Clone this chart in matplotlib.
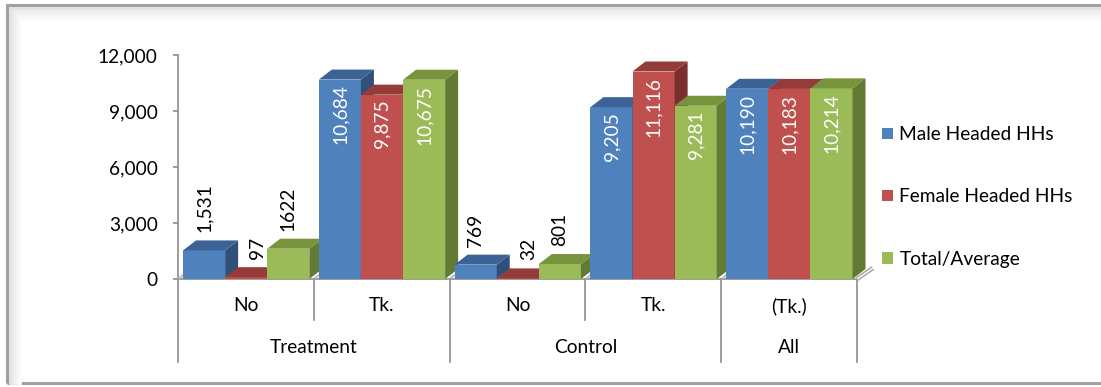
import matplotlib
matplotlib.use("Agg")
import matplotlib.pyplot as plt
from matplotlib.patches import Polygon, Rectangle
from matplotlib.lines import Line2D

# ---- data -------------------------------------------------------------
subcats = ["No", "Tk.", "No", "Tk.", "(Tk.)"]
groups = ["Treatment", "Control", "All"]
group_spans = [(0, 2), (2, 4), (4, 5)]
series = ["Male Headed HHs", "Female Headed HHs", "Total/Average"]
male = [1531, 10684, 769, 9205, 10190]
female = [97, 9875, 32, 11116, 10183]
total = [1622, 10675, 801, 9281, 10214]
# whether a data label uses a thousands separator
use_sep = [
    [True, True, True, True, True],
    [True, True, True, True, True],
    [False, True, True, True, True],
]
yticks = [0, 3000, 6000, 9000, 12000]

values = [male, female, total]

# ---- style ------------------------------------------------------------
front = ["#4F81BD", "#C0504D", "#9BBB59"]
top_c = ["#3C6395", "#953B39", "#77933C"]
side_c = ["#2F5079", "#7B2E2C", "#637A34"]
axis_c = "#8C8C8C"
FONT = "Lato"
FS = 13.8

plt.rcParams["font.family"] = [FONT, "DejaVu Sans"]

W, H = 1101, 387
fig = plt.figure(figsize=(W / 100, H / 100), dpi=100)
ax = fig.add_axes([178 / W, (H - 279) / H, (857 - 178) / W, 224 / H])
ax.set_xlim(0, len(subcats))
ax.set_ylim(0, 12000)

# chart frame with a soft inner shadow
for i, col in enumerate(["#E0E0E0", "#E8E8E8", "#EEEEEE", "#F3F3F3", "#F7F7F7", "#FBFBFB"]):
    off = 3 + i * 2
    fig.add_artist(Line2D([(7 + off) / W, 1.01], [(H - 5 - off) / H] * 2,
                          transform=fig.transFigure, color=col, lw=2))
    fig.add_artist(Line2D([(7 + off) / W] * 2, [(H - 5 - off) / H, 4 / H],
                          transform=fig.transFigure, color=col, lw=2))
fig.add_artist(Rectangle((7 / W, 4 / H), 1.05, (H - 9) / H, transform=fig.transFigure,
                         fill=False, ec="#A0A0A0", lw=2.2))

# depth of the 3D extrusion, converted from pixels into data units
fig.canvas.draw()
p0 = ax.transData.transform((0, 0))
inv = ax.transData.inverted()
ddx, ddy = inv.transform(p0 + [13, 10])
fdx, fdy = inv.transform(p0 + [16, 11])

bar_w = 0.31
lead = 0.037
n = len(subcats)
z = 3.0
for i in range(n):
    for k in range(3):
        v = values[k][i]
        x0 = i + lead + k * bar_w
        rect = ax.bar(x0, v, width=bar_w, align="edge", color=front[k],
                      edgecolor="none", zorder=z)[0]
        rect.set_clip_on(False)
        topf = Polygon([(x0, v), (x0 + bar_w, v), (x0 + bar_w + ddx, v + ddy), (x0 + ddx, v + ddy)],
                       closed=True, fc=top_c[k], ec="none", zorder=z, clip_on=False)
        sidef = Polygon([(x0 + bar_w, 0), (x0 + bar_w + ddx, ddy), (x0 + bar_w + ddx, v + ddy),
                         (x0 + bar_w, v)], closed=True, fc=side_c[k], ec="none", zorder=z,
                        clip_on=False)
        ax.add_patch(sidef)
        ax.add_patch(topf)
        z += 0.01

# data labels
outside_nudge_px = [0, 11, 0]
for k in range(3):
    for i in range(n):
        v = values[k][i]
        xc = i + lead + (k + 0.5) * bar_w
        txt = f"{v:,}" if use_sep[k][i] else f"{v}"
        if v > 3000:
            ax.annotate(txt, (xc, v), xytext=(0, -5), textcoords="offset pixels",
                        rotation=90, ha="center", va="top", color="white",
                        fontsize=FS, zorder=10, annotation_clip=False)
        else:
            ax.annotate(txt, (xc, v), xytext=(outside_nudge_px[k], 18), textcoords="offset pixels",
                        rotation=90, ha="center", va="bottom", color="black",
                        fontsize=FS, zorder=10, annotation_clip=False)

# axes styling
for s in ["top", "right"]:
    ax.spines[s].set_visible(False)
for s in ["left", "bottom"]:
    ax.spines[s].set_color(axis_c)
    ax.spines[s].set_linewidth(1.2)
    ax.spines[s].set_zorder(1)
ax.set_yticks(yticks)
ax.set_yticklabels([f"{t:,}" for t in yticks])
ax.tick_params(axis="y", length=3.6, width=1.2, color=axis_c, labelsize=FS, pad=11)
ax.set_xticks([])
ax.patch.set_alpha(0)

# floor edges at category boundaries
xt = ax.get_xaxis_transform()
for b in range(n + 1):
    if b == n:
        ax.plot([b, b + fdx], [0, fdy], color="#A6A6A6", lw=3.2, zorder=2,
                clip_on=False, solid_capstyle="butt")
        ax.plot([b, b + fdx], [0, fdy], color="white", lw=1.0, zorder=2.1,
                clip_on=False, solid_capstyle="butt")
    else:
        ax.plot([b, b + ddx * 0.6], [0, ddy * 0.6], color="#BDBDBD", lw=1.5, zorder=2,
                clip_on=False)

# two-level category axis
group_edges = {s for s, _ in group_spans} | {e for _, e in group_spans}
for b in range(n + 1):
    ylow = -0.37 if b in group_edges else -0.183
    ax.plot([b, b], [0, ylow], transform=xt, color=axis_c, lw=1.2, clip_on=False)
for i, lab in enumerate(subcats):
    ax.text(i + 0.5, -0.12, lab, transform=xt, ha="center", va="center", fontsize=FS)
for g, (s, e) in zip(groups, group_spans):
    ax.text((s + e) / 2, -0.308, g, transform=xt, ha="center", va="center", fontsize=FS)

# legend
handles = [Rectangle((0, 0), 1, 1, fc=c, ec="none") for c in front]
fig.legend(handles, series, loc="center left", bbox_to_anchor=(882 / W, (H - 197) / H),
           frameon=False, fontsize=FS, handlelength=0.55, handleheight=0.55,
           handletextpad=0.35, labelspacing=2.35, borderpad=0, borderaxespad=0)

fig.savefig("out.png", dpi=100, facecolor="white")
